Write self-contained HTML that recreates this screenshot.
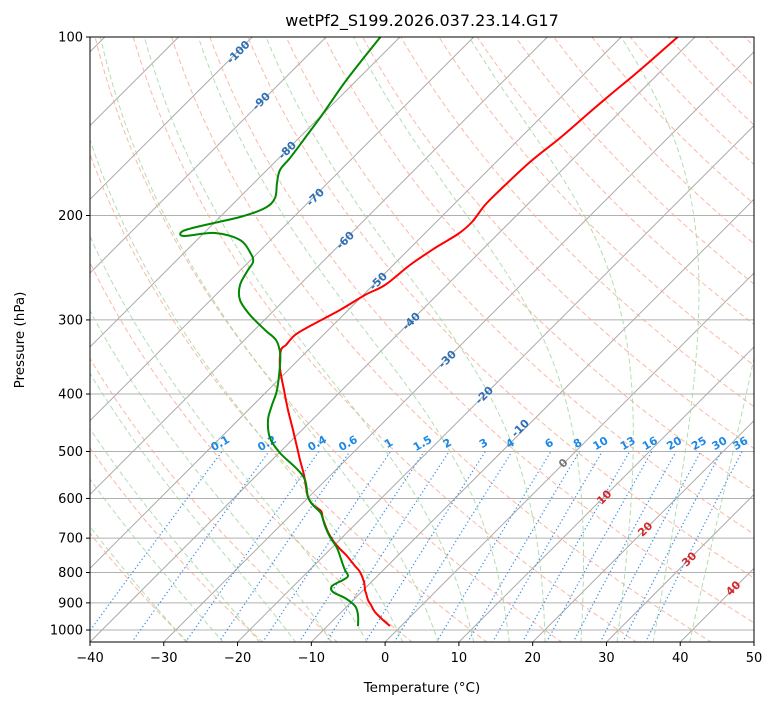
<!DOCTYPE html>
<html><head><meta charset="utf-8"><style>
body{margin:0;background:#fff;font-family:"Liberation Sans","DejaVu Sans",sans-serif}
</style></head><body>
<svg id="s" width="775" height="708" xmlns="http://www.w3.org/2000/svg" font-family="DejaVu Sans, Liberation Sans, sans-serif">
<defs><clipPath id="c"><rect x="90" y="37" width="664" height="605"/></clipPath></defs>
<g id="g" clip-path="url(#c)"></g>
<g id="t"></g>
</svg>
<script>
const L=90,R=754,T=37,B=642,ppd=664/90;
const Y=p=>37+593*(Math.log10(p)-2);
const X=(t,p)=>L+(t+40)*ppd+(B-Y(p));
const g=document.getElementById('g'),tg=document.getElementById('t');
let h='';
function line(pts,st){return '<polyline fill="none" points="'+pts.map(a=>a[0].toFixed(1)+','+a[1].toFixed(1)).join(' ')+'" '+st+'/>';}
function smooth(pts,st){let d='M'+pts[0][0]+','+pts[0][1];
for(let i=0;i<pts.length-1;i++){const p0=pts[Math.max(i-1,0)],p1=pts[i],p2=pts[i+1],p3=pts[Math.min(i+2,pts.length-1)];
const c1=[p1[0]+(p2[0]-p0[0])/6,p1[1]+(p2[1]-p0[1])/6],c2=[p2[0]-(p3[0]-p1[0])/6,p2[1]-(p3[1]-p1[1])/6];
d+=` C${c1[0].toFixed(1)},${c1[1].toFixed(1)} ${c2[0].toFixed(1)},${c2[1].toFixed(1)} ${p2[0]},${p2[1]}`;}
return `<path fill="none" d="${d}" ${st}/>`;}
const ps=[];for(let p=1050;p>=100;p*=0.98)ps.push(p);ps.push(100);
[100,200,300,400,500,600,700,800,900,1000].forEach(p=>{h+=`<line x1="90" x2="754" y1="${Y(p)}" y2="${Y(p)}" stroke="#b0b0b0" stroke-width="1"/>`});
for(let t=-160;t<=50;t+=10){h+=line([[X(t,1050),Y(1050)],[X(t,100),Y(100)]],'stroke="#aaa" stroke-width="1"');}
for(let th=-30;th<=200;th+=10){const K=th+273.15;h+=line(ps.map(p=>[X(K*Math.pow(p/1000,0.2857)-273.15,p),Y(p)]),'stroke="#f8a88e" stroke-width="1" stroke-dasharray="5,3" opacity="0.8"');}
function es(t){return 6.112*Math.exp(17.67*t/(t+243.5));}
function mlr(t,p){const Tk=t+273.15,Lv=2.501e6,Rd=287.04,cp=1005.7,eps=0.622;const rs=eps*es(t)/(p-es(t));
return (Rd*Tk+Lv*rs)/(cp+Lv*Lv*rs*eps/(Rd*Tk*Tk))/p;}
for(let t0=-30;t0<=40;t0+=5){let t=t0,pts=[];let p=1000;
let tt=t0;for(let q=1000;q<1050;q+=5){tt+=mlr(tt,q)*5;}pts.push([X(tt,1050),Y(1050)]);
for(p=1000;p>=100;p-=5){pts.push([X(t,p),Y(p)]);t-=mlr(t,p)*5;}
h+=line(pts,'stroke="#9fd49f" stroke-width="1" stroke-dasharray="5,3" opacity="0.8"');}
const ws=[0.1,0.2,0.4,0.6,1,1.5,2,3,4,6,8,10,13,16,20,25,30,36];
function td(w,p){const e=w*p/(622+w);const l=Math.log(e/6.112);return 243.5*l/(17.67-l);}
let lab='';
ws.forEach(w=>{const pts=[];for(let p=1050;p>=500;p-=10)pts.push([X(td(w,p),p),Y(p)]);
h+=line(pts,'stroke="#3d8fe8" stroke-width="1.2" stroke-dasharray="1.3,2.5"');
const x=X(td(w,500),500),y=Y(500);lab+=`<text x="${x}" y="${y-5}" fill="#1e88e5" font-size="11" font-weight="bold" text-anchor="middle" transform="rotate(-30 ${x} ${y-5})">${w}</text>`;});
const tp=[[390,626],[383,620],[375,612],[371,605],[368,600],[366,593],[365,590],[364,582],[360,572],[355,566],[347,556],[341,550],[334,542],[328,532],[323,519],[321,511],[313,505],[308,497],[306,487],[304,475],[300,460],[297,447],[293,430],[288,410],[284,390],[280,368],[281,350],[286,345],[295,335],[310,326],[340,310],[365,295],[385,285],[410,265],[435,248],[458,234],[472,222],[485,205],[500,190],[530,162],[560,138],[590,112],[610,95],[640,70],[680,35]];
const dp=[[358,626],[358,615],[355,606],[345,598],[333,592],[332,586],[343,580],[348,576],[345,570],[342,562],[337,548],[330,537],[325,526],[322,516],[320,512],[313,505],[308,497],[305,480],[296,468],[280,453],[270,438],[268,420],[272,405],[277,390],[280,365],[280,352],[276,340],[265,330],[250,315],[240,300],[240,285],[248,270],[253,262],[251,254],[240,240],[215,233],[184,236],[183,231],[205,225],[240,217],[265,208],[275,198],[277,183],[280,170],[290,158],[305,138],[322,115],[345,82],[370,50],[382,35]];
h+=lab;
const il=[[-100,238,52,'#2e6fb5'],[-90,261,101,'#2e6fb5'],[-80,287,150,'#2e6fb5'],[-70,315,197,'#2e6fb5'],[-60,345,240,'#2e6fb5'],[-50,378,281,'#2e6fb5'],[-40,411,321,'#2e6fb5'],[-30,447,359,'#2e6fb5'],[-20,484,395,'#2e6fb5'],[-10,520,428,'#2e6fb5'],[0,563,463,'#777'],[10,604,497,'#d62728'],[20,645,529,'#d62728'],[30,689,559,'#d62728'],[40,733,588,'#d62728']];
il.forEach(a=>{h+=`<text x="${a[1]}" y="${a[2]+4}" fill="${a[3]}" font-size="11" font-weight="bold" text-anchor="middle" transform="rotate(-45 ${a[1]} ${a[2]})">${a[0]}</text>`;});
h+=smooth(tp,'stroke="#f00" stroke-width="2"');
h+=smooth(dp,'stroke="#080" stroke-width="2"');
g.innerHTML=h;
let t='<rect x="90" y="37" width="664" height="605" fill="none" stroke="#000" stroke-width="1"/>';
[100,200,300,400,500,600,700,800,900,1000].forEach(p=>{const y=Y(p);t+=`<line x1="86" x2="90" y1="${y}" y2="${y}" stroke="#000"/><text x="83" y="${y+4.5}" font-size="13" text-anchor="end">${p}</text>`;});
for(let v=-40;v<=50;v+=10){const x=L+(v+40)*ppd;t+=`<line x1="${x}" x2="${x}" y1="642" y2="646" stroke="#000"/><text x="${x}" y="662" font-size="13" text-anchor="middle">${v<0?'\u2212'+(-v):v}</text>`;}
t+='<text x="422" y="692" font-size="13.5" text-anchor="middle">Temperature (°C)</text>';
t+='<text x="24" y="340" font-size="13.5" text-anchor="middle" transform="rotate(-90 24 340)">Pressure (hPa)</text>';
t+='<text x="422" y="26" font-size="16" text-anchor="middle">wetPf2_S199.2026.037.23.14.G17</text>';
tg.innerHTML=t;
</script>
</body></html>
